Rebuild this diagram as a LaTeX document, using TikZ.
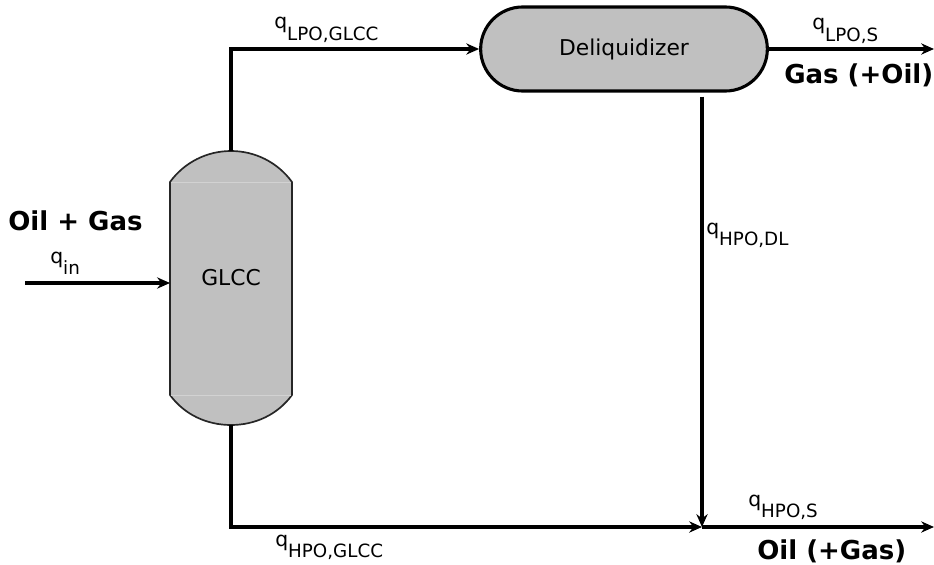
\documentclass[tikz,border=0pt]{standalone}
\usepackage{fontspec}
\setmainfont{DejaVu Sans}
\usepackage{tikz}
\usetikzlibrary{calc, arrows.meta, shapes.misc}
\definecolor{vesselgray}{RGB}{192,192,192}
\definecolor{seamgray}{RGB}{210,210,210}
\newcommand{\qflow}[1]{q\raisebox{-8pt}{\fontsize{13}{15}\selectfont #1}}

\begin{document}
\begin{tikzpicture}[
  x=0.025cm, y=-0.025cm,
  >={Stealth[length=3.2mm, width=2.8mm]},
  flow/.style={->, line width=2.2pt},
  vessel/.style={fill=vesselgray, draw=black!85, line width=1.2pt},
  unit/.style={rounded rectangle, draw, line width=2.2pt, fill=vesselgray,
               minimum width=7.4cm, minimum height=2.1cm,
               font=\fontsize{15.5}{18}\selectfont},
  qlab/.style={anchor=base west, inner sep=0pt, font=\fontsize{14.5}{17}\selectfont},
  stream/.style={anchor=base west, inner sep=0pt, font=\fontsize{18.5}{22}\selectfont\bfseries}
]
\useasboundingbox (0,0) rectangle (934,565);
% gas-liquid cylindrical cyclone
\path[vessel] (170,182) .. controls (184.3,162.4) and (206.8,151) .. (231,151)
  .. controls (255.2,151) and (277.7,162.4) .. (292,182) -- (292,395)
  .. controls (277.7,414.6) and (255.2,425) .. (231,425)
  .. controls (206.8,425) and (184.3,414.6) .. (170,395) -- cycle;
\draw[seamgray, line width=0.6pt] (171,182) -- (291,182) (171,395) -- (291,395);
\node[minimum width=3.05cm, minimum height=6.85cm, inner sep=0pt, outer sep=0pt] (glcc) at (231,288) {};
\node[font=\fontsize{15.5}{18}\selectfont] (glcctxt) at ($(glcc.center)+(0,-10)$) {GLCC};
\node[unit] (deliq) at (624,49) {Deliquidizer};
\coordinate (feed) at (25,283);
\coordinate (gasout) at (934,49);
\coordinate (mix) at (702,527);
\coordinate (oilout) at (934,527);
\draw[flow] (feed) -- (feed -| glcc.west);
\draw[flow] (glcc.north) |- (deliq.west);
\draw[flow] (deliq.east) -- (gasout);
\draw[flow] ($(deliq.south -| mix)+(0,4)$) -- (mix);
\draw[flow] (glcc.south) |- (mix);
\draw[flow] (mix) -- (oilout);
% stream labels
\node[stream] (inlbl) at (8,230) {Oil + Gas};
\node[qlab] (qin) at (50,263) {\qflow{in}};
\node[qlab] (qlpog) at (274,29) {\qflow{LPO,GLCC}};
\node[qlab] (qlpos) at (812,30) {\qflow{LPO,S}};
\node[stream] (gaslbl) at (784,83) {Gas (+Oil)};
\node[qlab] (qhpodl) at (706,234) {\qflow{HPO,DL}};
\node[qlab] (qhpos) at (748,506) {\qflow{HPO,S}};
\node[qlab] (qhpog) at (275,546) {\qflow{HPO,GLCC}};
\node[stream] (oillbl) at (757,559) {Oil (+Gas)};
\end{tikzpicture}
\end{document}
